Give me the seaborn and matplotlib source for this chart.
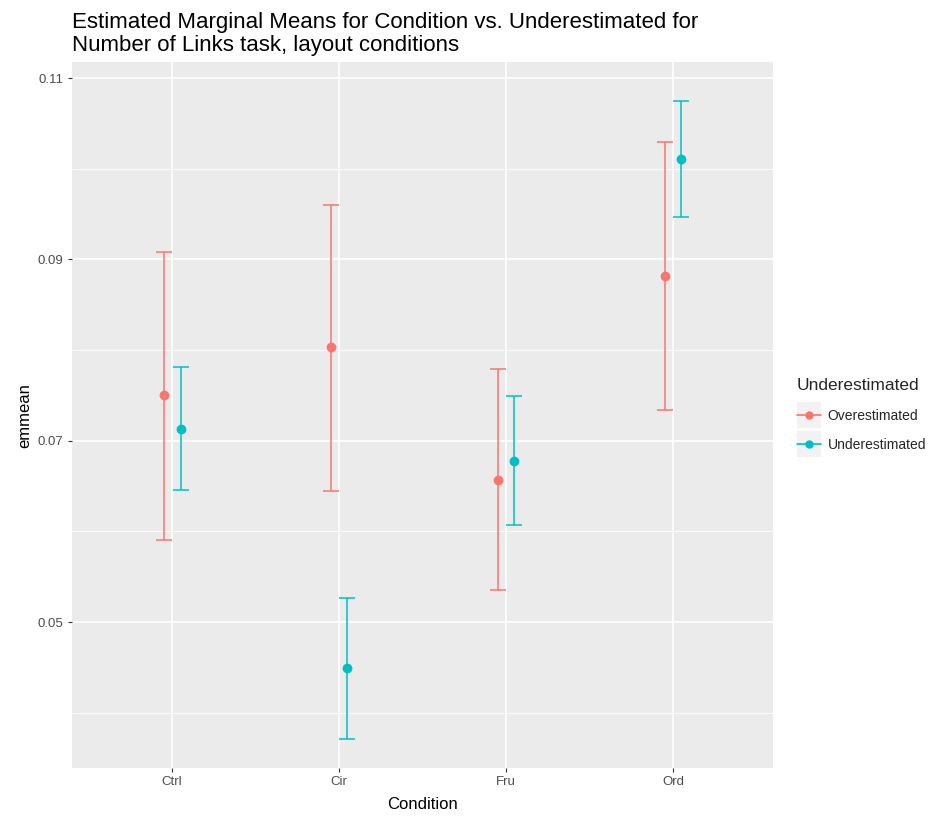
import matplotlib
matplotlib.use("Agg")
import matplotlib.pyplot as plt
import numpy as np
import pandas as pd
import seaborn as sns
from matplotlib.legend_handler import HandlerLine2D
from matplotlib.lines import Line2D
from matplotlib.patches import Rectangle

# Data
conditions = ["Ctrl", "Cir", "Fru", "Ord"]
groups = ["Overestimated", "Underestimated"]
over_mean = [0.0750, 0.0803, 0.0657, 0.0882]
over_lower = [0.0591, 0.0645, 0.0535, 0.0734]
over_upper = [0.0908, 0.0960, 0.0779, 0.1030]
under_mean = [0.0713, 0.0449, 0.0678, 0.1011]
under_lower = [0.0646, 0.0371, 0.0607, 0.0947]
under_upper = [0.0781, 0.0527, 0.0749, 0.1075]

palette = {"Overestimated": "#F8766D", "Underestimated": "#00BFC4"}

df = pd.DataFrame({
    "Condition": conditions * 2,
    "Underestimated": [groups[0]] * 4 + [groups[1]] * 4,
    "emmean": over_mean + under_mean,
    "lower": over_lower + under_lower,
    "upper": over_upper + under_upper,
})


class KeyHandler(HandlerLine2D):
    # ggplot style legend key: grey box behind line + point
    def create_artists(self, legend, orig_handle, xdescent, ydescent,
                       width, height, fontsize, trans):
        box = Rectangle((-xdescent, -ydescent - 6), width, height + 12,
                        facecolor="#F2F2F2", edgecolor="none", transform=trans)
        arts = super().create_artists(legend, orig_handle, xdescent, ydescent,
                                      width, height, fontsize, trans)
        return [box] + arts


sns.set_theme(style="darkgrid", rc={
    "axes.facecolor": "#EBEBEB",
    "grid.color": "white",
})
plt.rcParams["font.family"] = ["Liberation Sans", "DejaVu Sans"]

fig = plt.figure(figsize=(9.45, 8.16), dpi=100)
ax = fig.add_axes([0.0762, 0.0588, 0.742, 0.865])

dodge = 0.1
sns.pointplot(
    data=df, x="Condition", y="emmean", hue="Underestimated",
    order=conditions, hue_order=groups, palette=palette,
    errorbar=None, dodge=dodge, linestyle="none", markers="o",
    markersize=5, ax=ax, zorder=4, legend=False,
)

# error bars at the dodged positions
for i, g in enumerate(groups):
    sub = df[df["Underestimated"] == g].set_index("Condition").loc[conditions]
    xs = np.arange(len(conditions)) + (i - 0.5) * dodge
    ax.errorbar(
        xs, sub["emmean"],
        yerr=[sub["emmean"] - sub["lower"], sub["upper"] - sub["emmean"]],
        fmt="none", ecolor=palette[g], elinewidth=1.1, capsize=5.8,
        capthick=1.1, zorder=3,
    )

ax.set_xlim(-0.6, 3.6)
ax.set_ylim(0.0339, 0.11176)
ax.set_yticks([0.05, 0.07, 0.09, 0.11])
ax.set_yticklabels(["0.05", "0.07", "0.09", "0.11"])
ax.set_yticks([0.04, 0.06, 0.08, 0.10], minor=True)
ax.grid(True, which="major", color="white", linewidth=1.2)
ax.grid(True, which="minor", axis="y", color="white", linewidth=0.6)
ax.tick_params(axis="both", which="major", length=3, width=0.8, color="#333333",
               labelcolor="#4D4D4D", labelsize=9.5, pad=3)
ax.tick_params(axis="y", which="minor", length=0)
ax.tick_params(bottom=True, left=True)
for s in ax.spines.values():
    s.set_visible(False)

ax.set_xlabel("Condition", fontsize=12, color="black", labelpad=6)
ax.set_ylabel("emmean", fontsize=12, color="black")
ax.set_title("Estimated Marginal Means for Condition vs. Underestimated for\n"
             "Number of Links task, layout conditions",
             loc="left", fontsize=16, color="black", pad=8, linespacing=1.12)
ax.title.set_position((-0.005, 1.0))

handles = [Line2D([], [], color=palette[g], marker="o", markersize=5,
                  linewidth=1.2) for g in groups]
leg = ax.legend(handles, groups, title="Underestimated", loc="center left",
                bbox_to_anchor=(1.02, 0.5), frameon=False, fontsize=10,
                title_fontsize=12.5, handlelength=1.7, labelspacing=1.1,
                handletextpad=0.5, borderaxespad=0.3,
                handler_map={Line2D: KeyHandler()})
leg._legend_box.align = "left"

fig.savefig("out.png", dpi=100)
